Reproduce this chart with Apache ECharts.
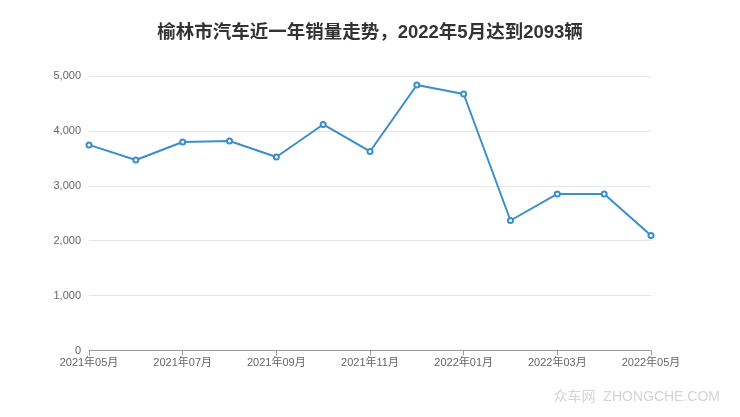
<!DOCTYPE html>
<html><head><meta charset="utf-8">
<script src="https://cdn.jsdelivr.net/npm/echarts@6/dist/echarts.min.js"></script>
<style>html,body{margin:0;padding:0;background:#fff}#c{width:740px;height:417px}</style>
</head><body><div id="c"></div>
<script>
var months = ['2021年05月','2021年06月','2021年07月','2021年08月','2021年09月','2021年10月','2021年11月','2021年12月','2022年01月','2022年02月','2022年03月','2022年04月','2022年05月'];
var sales = [3745, 3470, 3798, 3816, 3525, 4117, 3625, 4836, 4672, 2368, 2851, 2851, 2093];
var titleText = '榆林市汽车近一年销量走势，2022年5月达到2093辆';
var watermark = '众车网  ZHONGCHE.COM';
var FF = '"Liberation Sans", "Noto Sans CJK SC", sans-serif';

var chart = echarts.init(document.getElementById('c'));
chart.setOption({
  animation: false,
  textStyle: {fontFamily: FF},
  title: {text: titleText, left: 'center', top: 19,
    textStyle: {fontSize: 18.5, fontWeight: 'bold', color: '#333', fontFamily: FF}},
  graphic: [{type: 'text', right: 20, top: 390,
    style: {text: watermark, fontSize: 14, fill: '#d4d4d4', fontFamily: FF}}],
  grid: {left: 89, right: 89, top: 76, bottom: 66.5},
  xAxis: {type: 'category', data: months, boundaryGap: false,
    axisLine: {lineStyle: {color: '#999'}},
    axisTick: {interval: 1, lineStyle: {color: '#999'}},
    axisLabel: {interval: 1, color: '#666', fontSize: 11, margin: 7, fontFamily: FF}},
  yAxis: {type: 'value', min: 0, max: 5000, interval: 1000,
    axisLine: {show: false}, axisTick: {show: false},
    axisLabel: {color: '#666', fontSize: 11, margin: 8, fontFamily: FF},
    splitLine: {lineStyle: {color: '#e6e6e6'}}},
  series: [{type: 'line', data: sales, symbol: 'emptyCircle', symbolSize: 5,
    itemStyle: {color: '#3b8fc9'}, lineStyle: {width: 2, color: '#3b8fc9'}}]
});
</script></body></html>
